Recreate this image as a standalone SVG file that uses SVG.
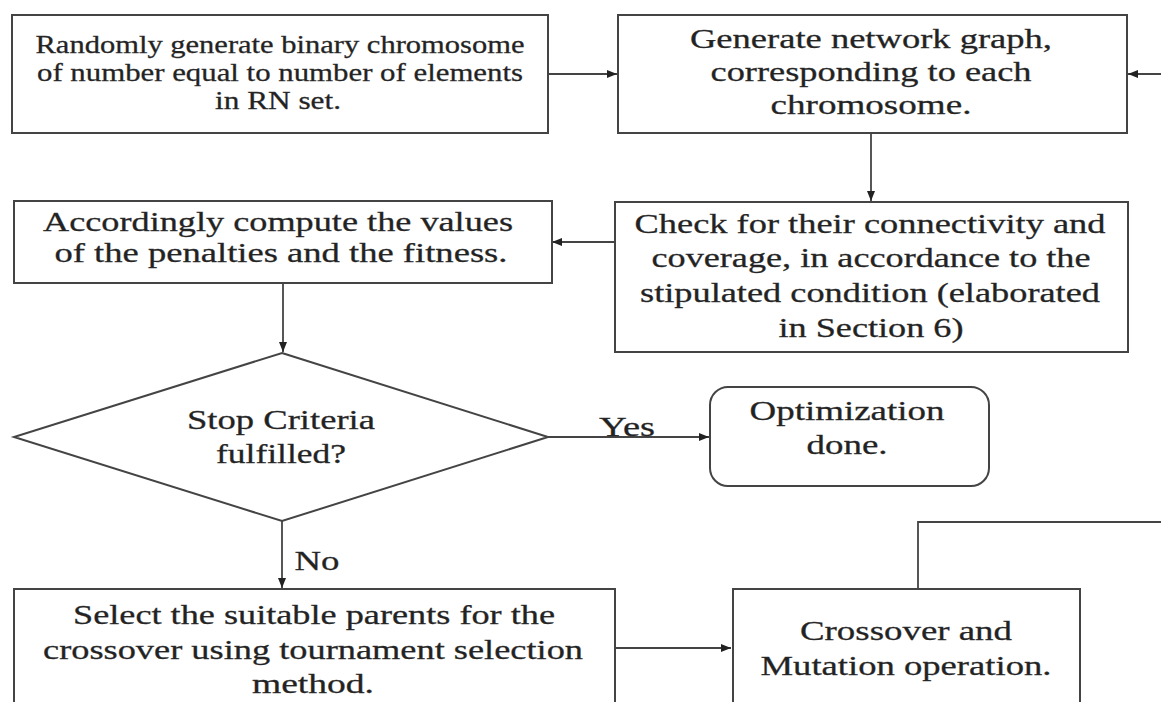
<svg xmlns="http://www.w3.org/2000/svg" width="1161" height="702" viewBox="0 0 1161 702">
<defs>
<marker id="ah" viewBox="0 0 10 10" refX="10" refY="5" markerWidth="10" markerHeight="10" markerUnits="userSpaceOnUse" orient="auto">
<path d="M0,1 L10,5 L0,9 z" fill="#222"/>
</marker>
</defs>
<style>
.box{fill:#fff;stroke:#444;stroke-width:2}
.con{fill:none;stroke:#444;stroke-width:1.8}
.t{font-family:"Liberation Serif","Times New Roman",serif;font-size:27px;fill:#222;stroke:#333;stroke-width:0.3;text-anchor:middle}
.s{font-size:25px}
</style>
<rect width="1161" height="702" fill="#fff"/>
<g id="connectors">
<line class="con" x1="548" y1="74" x2="617" y2="74" marker-end="url(#ah)"/>
<line class="con" x1="1161" y1="74" x2="1128" y2="74" marker-end="url(#ah)"/>
<line class="con" x1="871" y1="133" x2="871" y2="201" marker-end="url(#ah)"/>
<line class="con" x1="615" y1="242" x2="552" y2="242" marker-end="url(#ah)"/>
<line class="con" x1="283" y1="283" x2="283" y2="352" marker-end="url(#ah)"/>
<line class="con" x1="547" y1="437" x2="709" y2="437" marker-end="url(#ah)"/>
<line class="con" x1="282" y1="521" x2="282" y2="588" marker-end="url(#ah)"/>
<line class="con" x1="615" y1="648" x2="731" y2="648" marker-end="url(#ah)"/>
<polyline class="con" points="918,589 918,522 1161,522"/>
<text class="t" x="627" y="436" textLength="56" lengthAdjust="spacingAndGlyphs">Yes</text>
<text class="t" x="317" y="570" textLength="45" lengthAdjust="spacingAndGlyphs">No</text>
</g>
<g id="n1">
<rect class="box" x="12" y="15" width="536" height="118"/>
<text class="t s" x="280" y="53" textLength="489" lengthAdjust="spacingAndGlyphs">Randomly generate binary chromosome</text>
<text class="t s" x="280" y="81" textLength="486" lengthAdjust="spacingAndGlyphs">of number equal to number of elements</text>
<text class="t s" x="278" y="109" textLength="126" lengthAdjust="spacingAndGlyphs">in RN set.</text>
</g>
<g id="n2">
<rect class="box" x="618" y="15" width="509" height="118"/>
<text class="t" x="871" y="48" textLength="362" lengthAdjust="spacingAndGlyphs">Generate network graph,</text>
<text class="t" x="871" y="81" textLength="321" lengthAdjust="spacingAndGlyphs">corresponding to each</text>
<text class="t" x="871" y="114" textLength="201" lengthAdjust="spacingAndGlyphs">chromosome.</text>
</g>
<g id="n3">
<rect class="box" x="615" y="202" width="513" height="150"/>
<text class="t" x="870" y="233" textLength="471" lengthAdjust="spacingAndGlyphs">Check for their connectivity and</text>
<text class="t" x="871" y="267" textLength="439" lengthAdjust="spacingAndGlyphs">coverage, in accordance to the</text>
<text class="t" x="870" y="302" textLength="460" lengthAdjust="spacingAndGlyphs">stipulated condition (elaborated</text>
<text class="t" x="871" y="337" textLength="185" lengthAdjust="spacingAndGlyphs">in Section 6)</text>
</g>
<g id="n4">
<rect class="box" x="14" y="201" width="538" height="82"/>
<text class="t" x="278" y="231" textLength="470" lengthAdjust="spacingAndGlyphs">Accordingly compute the values</text>
<text class="t" x="281" y="262" textLength="453" lengthAdjust="spacingAndGlyphs">of the penalties and the fitness.</text>
</g>
<g id="n5">
<polygon class="box" points="282,353 548,437 282,521 14,437"/>
<text class="t" x="281" y="429" textLength="188" lengthAdjust="spacingAndGlyphs">Stop Criteria</text>
<text class="t" x="281" y="463" textLength="130" lengthAdjust="spacingAndGlyphs">fulfilled?</text>
</g>
<g id="n6">
<rect class="box" x="710" y="387" width="279" height="99" rx="18" ry="18"/>
<text class="t" x="847" y="420" textLength="195" lengthAdjust="spacingAndGlyphs">Optimization</text>
<text class="t" x="847" y="454" textLength="81" lengthAdjust="spacingAndGlyphs">done.</text>
</g>
<g id="n7">
<rect class="box" x="14" y="589" width="601" height="140"/>
<text class="t" x="314" y="624" textLength="482" lengthAdjust="spacingAndGlyphs">Select the suitable parents for the</text>
<text class="t" x="313" y="659" textLength="540" lengthAdjust="spacingAndGlyphs">crossover using tournament selection</text>
<text class="t" x="313" y="693" textLength="122" lengthAdjust="spacingAndGlyphs">method.</text>
</g>
<g id="n8">
<rect class="box" x="733" y="589" width="347" height="140"/>
<text class="t" x="906" y="640" textLength="212" lengthAdjust="spacingAndGlyphs">Crossover and</text>
<text class="t" x="906" y="675" textLength="291" lengthAdjust="spacingAndGlyphs">Mutation operation.</text>
</g>
</svg>
